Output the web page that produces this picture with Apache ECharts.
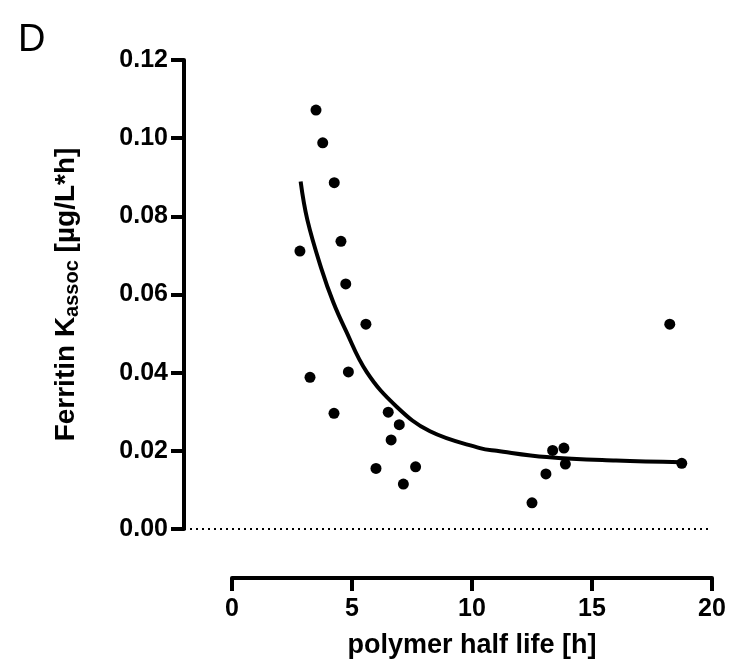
<!DOCTYPE html>
<html>
<head>
<meta charset="utf-8">
<script src="https://cdn.jsdelivr.net/npm/echarts@6/dist/echarts.min.js"></script>
<style>
html,body{margin:0;padding:0;background:#fff;}
#chart{width:729px;height:667px;}
</style>
</head>
<body>
<div id="chart"></div>
<script>
// Measured points: polymer half life [h] vs Ferritin Kassoc
var pointX = [3.50, 3.78, 4.26, 4.54, 2.83, 4.74, 5.58, 3.25, 4.85, 4.25, 6.51, 6.97, 6.63, 6.00, 7.65, 7.14, 18.24, 13.36, 13.83, 13.89, 13.08, 12.50, 18.74];
var pointY = [0.1072, 0.0988, 0.0886, 0.0736, 0.0711, 0.0627, 0.0524, 0.0388, 0.0402, 0.0296, 0.0299, 0.0267, 0.0228, 0.0155, 0.0159, 0.0115, 0.0524, 0.0201, 0.0207, 0.0166, 0.0141, 0.0067, 0.0168];
// Fitted curve
var curveX = [2.86, 3.14, 3.74, 4.22, 4.71, 5.61, 6.86, 8.25, 10.33, 11.03, 13.11, 16.0, 18.74];
var curveY = [0.0889, 0.0791, 0.0663, 0.0580, 0.0512, 0.0402, 0.0313, 0.0250, 0.0207, 0.0200, 0.0184, 0.0175, 0.0171];
var yTicks = [0, 0.02, 0.04, 0.06, 0.08, 0.10, 0.12];
var xTicks = [0, 5, 10, 15, 20];
var panelLabel = 'D';
var xTitle = 'polymer half life [h]';

var FONT = "'Liberation Sans', Arial, Helvetica, sans-serif";
var chart = echarts.init(document.getElementById('chart'), null, {renderer: 'canvas'});

var points = pointX.map(function (x, i) { return [x, pointY[i]]; });
var curve = curveX.map(function (x, i) { return [x, curveY[i]]; });

chart.setOption({
  animation: false,
  backgroundColor: '#fff',
  title: {
    text: panelLabel, left: 13, top: 17,
    textStyle: {fontFamily: FONT, fontSize: 38, fontWeight: 'normal', color: '#000'}
  },
  grid: [
    {left: 184, right: 17, top: 60, bottom: 138},
    {left: 232, right: 17, top: 573, height: 5}
  ],
  xAxis: [
    {gridIndex: 0, type: 'value', min: -2, max: 20, show: false},
    {
      gridIndex: 1, type: 'value', min: xTicks[0], max: xTicks[xTicks.length - 1], interval: 5,
      position: 'bottom',
      axisLine: {show: true, onZero: false, lineStyle: {color: '#000', width: 4}},
      axisTick: {show: true, length: 13, lineStyle: {color: '#000', width: 4}},
      axisLabel: {margin: 19, fontFamily: FONT, fontSize: 25, fontWeight: 'bold', color: '#000'},
      splitLine: {show: false},
      name: xTitle, nameLocation: 'middle', nameGap: 54,
      nameTextStyle: {fontFamily: FONT, fontSize: 27, fontWeight: 'bold', color: '#000'}
    }
  ],
  yAxis: [
    {
      gridIndex: 0, type: 'value', min: yTicks[0], max: yTicks[yTicks.length - 1], interval: 0.02,
      axisLine: {show: true, onZero: false, lineStyle: {color: '#000', width: 4}},
      axisTick: {show: true, length: 13, lineStyle: {color: '#000', width: 4}},
      axisLabel: {
        margin: 16, fontFamily: FONT, fontSize: 25, fontWeight: 'bold', color: '#000',
        formatter: function (v) { return v.toFixed(2); }
      },
      splitLine: {show: false},
      name: '{a|Ferritin K}{b|assoc}{a| [µg/L*h]}',
      nameLocation: 'middle', nameRotate: 90, nameGap: 102,
      nameTextStyle: {
        rich: {
          a: {fontFamily: FONT, fontSize: 28, fontWeight: 'bold', color: '#000', lineHeight: 32},
          b: {fontFamily: FONT, fontSize: 20, fontWeight: 'bold', color: '#000', lineHeight: 12, verticalAlign: 'bottom'}
        }
      }
    },
    {gridIndex: 1, type: 'value', show: false, min: 0, max: 1}
  ],
  series: [
    {
      type: 'line', xAxisIndex: 0, yAxisIndex: 0, data: curve,
      smooth: 0.4, showSymbol: false, symbol: 'none',
      lineStyle: {color: '#000', width: 4},
      z: 2,
      markLine: {
        silent: true, symbol: 'none', label: {show: false},
        lineStyle: {color: '#000', width: 2, type: [2, 4]},
        data: [{yAxis: yTicks[0]}]
      }
    },
    {
      type: 'scatter', xAxisIndex: 0, yAxisIndex: 0, data: points,
      symbol: 'circle', symbolSize: 11,
      itemStyle: {color: '#000', opacity: 1}, z: 3
    }
  ]
});
</script>
</body>
</html>
